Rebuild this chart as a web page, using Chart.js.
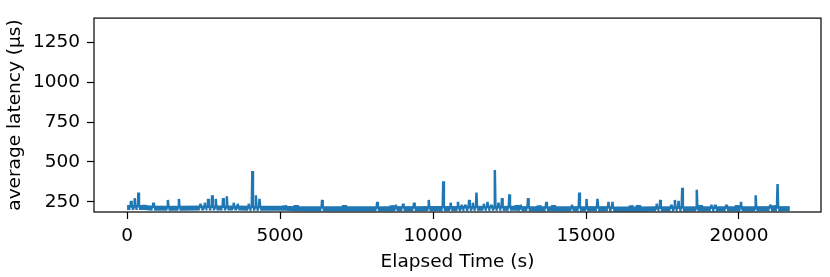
<!DOCTYPE html>
<html>
<head>
<meta charset="utf-8">
<script src="https://cdn.jsdelivr.net/npm/chart.js@4"></script>
<style>
html, body { margin: 0; padding: 0; background: #fff; }
#wrap { width: 830px; height: 277px; }
</style>
</head>
<body>
<div id="wrap"><canvas id="latency-chart"></canvas></div>
<script>
// baseline level of the noisy band (s, µs)
const baseTimes = [0, 1500, 3000, 4500, 6000, 7500, 9000, 10500, 12000, 13500, 15000, 16500, 18000, 19500, 21000, 21660];
const baseValues = [214, 210, 211, 209, 207, 206, 207, 208, 209, 207, 207, 205, 206, 206, 207, 207];

// isolated latency spikes (s, µs)
const spikeTimes = [130, 250, 370, 565, 860, 1335, 1695, 2400, 2540, 2650, 2780, 2900, 3140, 3260, 3485, 3615, 3975, 4095, 4210, 4330,
    5150, 5525, 6375, 7100, 8175, 8655, 8785, 9020, 9380, 9860, 10335, 10575, 10815, 10935, 11050, 11180, 11300, 11420, 11660, 11780,
    11900, 12020, 12140, 12255, 12495, 12745, 12865, 13105, 13460, 13700, 13940, 14540, 14780, 15015, 15375, 15735, 15865, 16470, 16710, 17310,
    17425, 17785, 17905, 18025, 18145, 18620, 18740, 19100, 19220, 19585, 19945, 20065, 20545, 21020, 21140, 21260];
const spikeValues = [256, 273, 308, 227, 244, 262, 268, 238, 244, 268, 291, 268, 273, 285, 244, 238, 238, 443, 291, 268,
    227, 227, 262, 227, 250, 227, 232, 238, 244, 262, 379, 244, 250, 232, 232, 262, 244, 308, 238, 250,
    232, 449, 244, 273, 297, 227, 232, 273, 227, 250, 227, 232, 308, 268, 268, 250, 250, 227, 227, 238,
    262, 232, 262, 256, 338, 326, 227, 232, 232, 232, 227, 250, 291, 232, 227, 361];

const xTicks = [0, 5000, 10000, 15000, 20000];
const yTicks = [250, 500, 750, 1000, 1250];

function nearestBase(t) {
    let best = 0;
    baseTimes.forEach(function(bt, i) {
        if (Math.abs(bt - t) < Math.abs(baseTimes[best] - t)) best = i;
    });
    return baseValues[best];
}

const points = [];
baseTimes.forEach(function(t, i) {
    points.push({ x: t, y: baseValues[i] });
});
spikeTimes.forEach(function(t, i) {
    const b = nearestBase(t);
    points.push({ x: t - 20, y: b }, { x: t, y: spikeValues[i] }, { x: t + 20, y: b });
});
points.sort(function(a, b) { return a.x - b.x; });

const font = { family: '"DejaVu Sans", sans-serif', size: 18.5 };

// black frame round the plot area
const framePlugin = {
    id: 'frame',
    afterDraw: function(chart) {
        const a = chart.chartArea;
        const c = chart.ctx;
        c.save();
        c.strokeStyle = '#000';
        c.lineWidth = 1.2;
        c.strokeRect(a.left, a.top, a.right - a.left, a.bottom - a.top);
        c.restore();
    }
};

const ctx = document.getElementById('latency-chart').getContext('2d');
new Chart(ctx, {
    type: 'line',
    data: {
        datasets: [{
            label: 'average latency',
            data: points,
            borderColor: '#1f77b4',
            borderWidth: 2.5,
            borderJoinStyle: 'bevel',
            pointRadius: 0,
            tension: 0,
            fill: false,
            segment: {
                borderWidth: function(s) {
                    return Math.max(s.p0.parsed.y, s.p1.parsed.y) < 230 ? 5 : 2.5;
                }
            }
        }]
    },
    options: {
        responsive: true,
        maintainAspectRatio: false,
        animation: false,
        layout: { padding: { left: 0, top: 5, right: 9, bottom: 0 } },
        plugins: { legend: { display: false }, tooltip: { enabled: false } },
        scales: {
            x: {
                type: 'linear',
                min: -1080,
                max: 22680,
                afterBuildTicks: function(scale) {
                    scale.ticks = xTicks.map(function(v) { return { value: v }; });
                },
                afterFit: function(scale) { scale.height = 65; },
                grid: { display: true, drawOnChartArea: false, drawTicks: true, tickLength: 7, tickColor: '#000', tickWidth: 1.2 },
                border: { display: false },
                ticks: { color: '#000', font: font, padding: 6, maxRotation: 0, callback: function(v) { return String(v); } },
                title: { display: true, text: 'Elapsed Time (s)', color: '#000', font: font, padding: { top: 0, bottom: 4 } }
            },
            y: {
                type: 'linear',
                min: 186,
                max: 1402,
                afterBuildTicks: function(scale) {
                    scale.ticks = yTicks.map(function(v) { return { value: v }; });
                },
                afterFit: function(scale) { scale.width = 94; },
                grid: { display: true, drawOnChartArea: false, drawTicks: true, tickLength: 7, tickColor: '#000', tickWidth: 1.2 },
                border: { display: false },
                ticks: { color: '#000', font: font, padding: 7, callback: function(v) { return String(v); } },
                title: { display: true, text: 'average latency (µs)', color: '#000', font: font, padding: { top: 4, bottom: 0 } }
            }
        }
    },
    plugins: [framePlugin]
});
</script>
</body>
</html>
